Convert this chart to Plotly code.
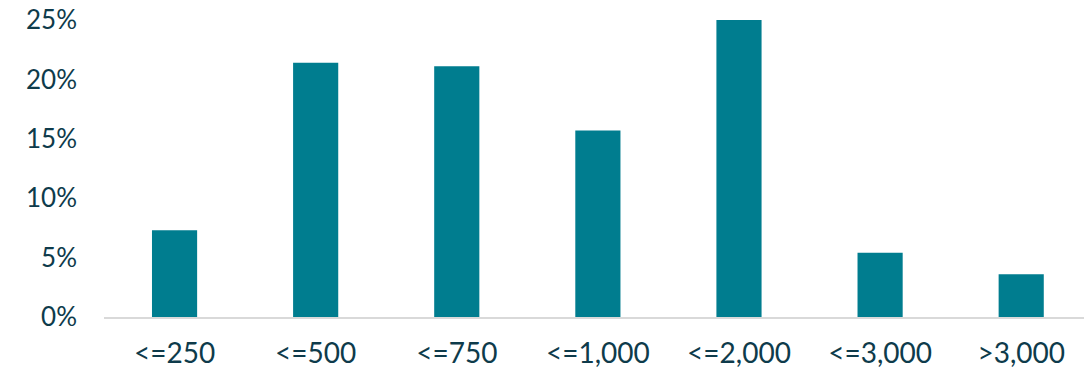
import plotly.graph_objects as go

categories = ["<=250", "<=500", "<=750", "<=1,000", "<=2,000", "<=3,000", ">3,000"]
shares = [7.3, 21.4, 21.1, 15.7, 25.0, 5.4, 3.6]
tick_vals = [0, 5, 10, 15, 20, 25]
tick_text = ["0%", "5%", "10%", "15%", "20%", "25%"]

text_color = "#0E3B4B"
bar_color = "#007D8F"

fig = go.Figure(go.Bar(x=categories, y=shares, marker=dict(color=bar_color, line=dict(width=0))))

fig.update_layout(
    width=1084, height=370,
    margin=dict(l=104, r=0, t=20, b=53),
    paper_bgcolor="white", plot_bgcolor="white",
    bargap=0.68,
    showlegend=False,
    font=dict(family="Lato", size=26, color=text_color),
)
fig.update_xaxes(
    range=[-0.5, 6.445],
    showline=True, linecolor="#D9D9D9", linewidth=2,
    showgrid=False, ticks="", ticklabelstandoff=10,
    tickfont=dict(size=28, color=text_color),
)
fig.update_yaxes(
    range=[0, 25], tickvals=tick_vals, ticktext=tick_text,
    showgrid=False, zeroline=False, showline=False,
    ticks="", ticklabelstandoff=26,
    tickfont=dict(size=26, color=text_color),
)

fig.write_html("out.html")
